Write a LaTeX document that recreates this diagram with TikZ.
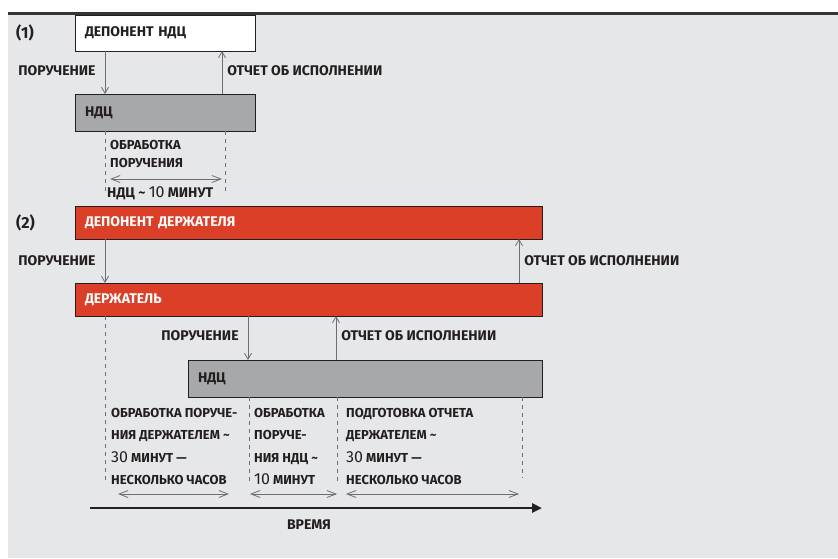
\documentclass[tikz,border=0pt]{standalone}
\usepackage{fontspec}
\setmainfont{Fira Sans}
\usetikzlibrary{arrows.meta,positioning}

\definecolor{bgGray}{HTML}{E6E7E9}
\definecolor{boxGray}{HTML}{A7A8AA}
\definecolor{dzRed}{HTML}{DB3F28}
\definecolor{inkDark}{HTML}{231F20}
\definecolor{lineGray}{HTML}{6D6E71}

\newcommand{\bignum}[1]{{\mdseries\fontsize{16}{16}\selectfont #1}}

\tikzset{
  lbl/.style={font=\bfseries\fontsize{14}{16}\selectfont, text=inkDark, inner sep=0pt},
  colText/.style={lbl, font=\bfseries\fontsize{13}{22.5}\selectfont, align=left, anchor=north west},
  bar/.style={draw=inkDark, line width=0.8pt, anchor=north west, outer sep=0pt,
    inner xsep=10pt, align=left, font=\bfseries\fontsize{14}{16}\selectfont},
  whitebar/.style={bar, fill=white, text=inkDark},
  graybar/.style={bar, fill=boxGray, text=inkDark},
  redbar/.style={bar, fill=dzRed, text=white},
  msg/.style={draw=lineGray, line width=0.8pt, -{Straight Barb[length=6pt,width=7pt]}},
  span/.style={draw=lineGray, line width=0.8pt,
    {Straight Barb[length=9pt,width=7pt]}-{Straight Barb[length=9pt,width=7pt]}},
  guide/.style={draw=lineGray, line width=0.8pt, dash pattern=on 4pt off 4pt}
}

\begin{document}
\begin{tikzpicture}[x=1pt,y=-1pt]
\useasboundingbox (0,0) rectangle (838,558);
\fill[bgGray] (8,15) rectangle (838,558);
\draw[inkDark!90,line width=3pt] (8,13.5) -- (838,13.5);

% x positions of the connectors
\coordinate (xa) at (105,0);
\coordinate (xb) at (222,0);
\coordinate (xc) at (225,0);
\coordinate (xd) at (519,0);
\coordinate (xe) at (248,0);
\coordinate (xf) at (336,0);
\coordinate (xg) at (249,0);
\coordinate (xh) at (337,0);
\coordinate (xi) at (522,0);

% (1)
\node[lbl,anchor=west] (caseA) at (16,33) {\fontsize{16}{18}\selectfont (1)};
\node[whitebar,minimum width=180,minimum height=36,text width=160] (depNDC) at (75,15) {ДЕПОНЕНТ НДЦ};
\node[graybar,minimum width=180,minimum height=37,text width=160] (ndcA) at (75,94) {НДЦ};
\draw[msg] (depNDC.south -| xa) -- (ndcA.north -| xa) node[lbl,left=9pt,pos=0.45] (ordA) {ПОРУЧЕНИЕ};
\draw[msg] (ndcA.north -| xb) -- (depNDC.south -| xb) node[lbl,right=5pt,pos=0.55] (repA) {ОТЧЕТ ОБ ИСПОЛНЕНИИ};
\coordinate (ga) at (105,195);
\coordinate (gb) at (225,195);
\draw[guide] (ndcA.south -| xa) -- (ga);
\draw[guide] (ndcA.south -| xc) -- (gb);
\node[lbl,font=\bfseries\fontsize{13}{18}\selectfont,align=left,anchor=north west] (procA) at (110,140) {ОБРАБОТКА\\ПОРУЧЕНИЯ};
\coordinate (sa1) at (110,179);
\coordinate (sa2) at (222,179);
\draw[span] (sa1) -- (sa2);
\node[lbl,anchor=west] (timeA) at (107,193) {НДЦ \char"007E{} \bignum{10} МИНУТ};

% (2)
\node[lbl,anchor=west] (caseB) at (16,223) {\fontsize{16}{18}\selectfont (2)};
\node[redbar,minimum width=467,minimum height=33,text width=447] (depHold) at (75,206) {ДЕПОНЕНТ ДЕРЖАТЕЛЯ};
\node[redbar,minimum width=467,minimum height=33,text width=447] (holder) at (75,283) {ДЕРЖАТЕЛЬ};
\node[graybar,minimum width=354,minimum height=37,text width=334] (ndcB) at (188,360) {НДЦ};
\draw[msg] (depHold.south -| xa) -- (holder.north -| xa) node[lbl,left=9pt,pos=0.5] (ordB) {ПОРУЧЕНИЕ};
\draw[msg] (holder.north -| xd) -- (depHold.south -| xd) node[lbl,right=5pt,pos=0.5] (repB) {ОТЧЕТ ОБ ИСПОЛНЕНИИ};
\draw[msg] (holder.south -| xe) -- (ndcB.north -| xe) node[lbl,left=9pt,pos=0.45] (ordC) {ПОРУЧЕНИЕ};
\draw[msg] (ndcB.north -| xf) -- (holder.south -| xf) node[lbl,right=5pt,pos=0.55] (repC) {ОТЧЕТ ОБ ИСПОЛНЕНИИ};

% time intervals
\coordinate (g1) at (105,483);
\coordinate (g2) at (249,483);
\coordinate (g3) at (337,483);
\coordinate (g4) at (522,478);
\draw[guide] (holder.south -| xa) -- (g1);
\draw[guide] (ndcB.south -| xg) -- (g2);
\draw[guide] (ndcB.south -| xh) -- (g3);
\draw[guide] (ndcB.south -| xi) -- (g4);
\node[colText] (stepHold) at (111,408) {ОБРАБОТКА ПОРУЧЕ-\\НИЯ ДЕРЖАТЕЛЕМ \char"007E\\\bignum{30} МИНУТ —\\НЕСКОЛЬКО ЧАСОВ};
\node[colText] (stepNDC) at (254,408) {ОБРАБОТКА\\ПОРУЧЕ-\\НИЯ НДЦ \char"007E\\\bignum{10} МИНУТ};
\node[colText] (stepRep) at (346,408) {ПОДГОТОВКА ОТЧЕТА\\ДЕРЖАТЕЛЕМ \char"007E\\\bignum{30} МИНУТ —\\НЕСКОЛЬКО ЧАСОВ};
\coordinate (s11) at (118,494);
\coordinate (s12) at (229,494);
\coordinate (s21) at (250,494);
\coordinate (s22) at (337,494);
\coordinate (s31) at (346,494);
\coordinate (s32) at (519,494);
\draw[span] (s11) -- (s12);
\draw[span] (s21) -- (s22);
\draw[span] (s31) -- (s32);

% time axis
\coordinate (t0) at (90,508);
\coordinate (t1) at (542,508);
\draw[inkDark,line width=2.5pt,-{Triangle[length=10pt,width=9pt]}] (t0) -- (t1);
\node[lbl] (timeLbl) at (309,525) {ВРЕМЯ};
\end{tikzpicture}
\end{document}
